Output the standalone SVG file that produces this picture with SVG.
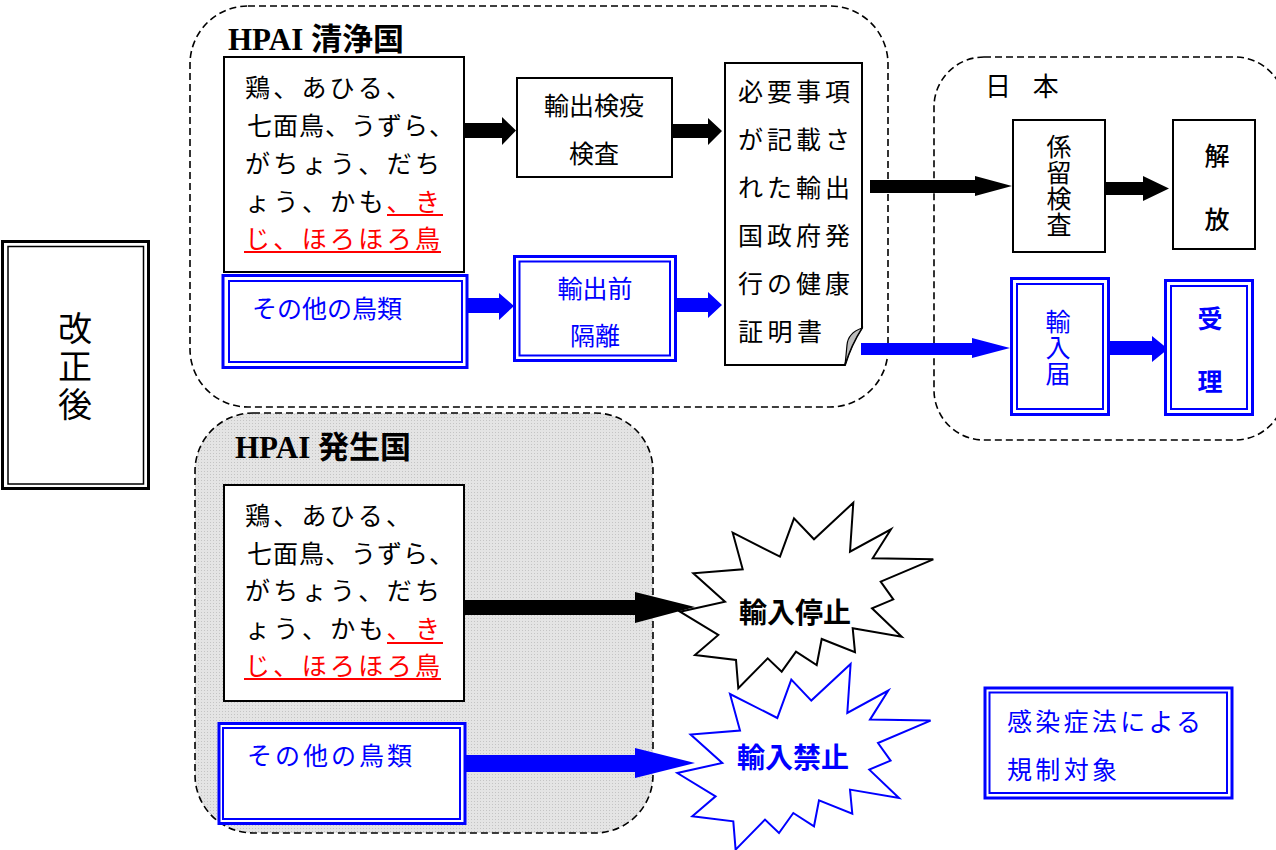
<svg xmlns="http://www.w3.org/2000/svg" width="1276" height="850" viewBox="0 0 1276 850">
<defs>
<style>
.jp{font-family:"Noto Sans CJK JP","Noto Sans",sans-serif;}
.t{font-family:"Noto Sans CJK JP","Noto Sans",sans-serif;font-size:25px;fill:#000;}
.v{writing-mode:vertical-rl;}
.b{fill:#0000ff;}
.r{fill:#ff0000;}
.title{font-family:"Liberation Serif","Noto Sans CJK JP",serif;font-size:31px;font-weight:bold;fill:#000;}
.grp{fill:none;stroke:#000;stroke-width:1.6;stroke-dasharray:7 4;}
.box{fill:#fff;stroke:#000;stroke-width:2;}
.bo{fill:#fff;stroke:#0000ff;stroke-width:3;}
.bi{fill:none;stroke:#0000ff;stroke-width:2;}
.ul{stroke:#ff0000;stroke-width:2;}
.ab{fill:#000;}
.aB{fill:#0000ff;}
.star{fill:#fff;stroke-width:2;stroke-linejoin:miter;}
</style>
<pattern id="dots" width="3" height="3" patternUnits="userSpaceOnUse">
<rect width="3" height="3" fill="#e4e4e4"/>
<rect width="1" height="1" fill="#c4c4c4"/>
</pattern>
<polygon id="starShape" points="853.3,502.7 850,551.7 891,529.3 872.7,558.3 933.3,559.3 880.7,581.7 893.3,599.3 872,608.3 901.7,636.7 852.7,628.3 855,652.3 821.7,639 816.7,665 796,651.7 781.7,671.7 767.7,658.3 738.3,688.3 736,660 695,655 718.3,635 680,611.7 725,601.7 693.3,573.3 742.7,569.3 732.7,532.7 780,556.7 794,518.3 814,539.3"/>
</defs>
<rect width="1276" height="850" fill="#fff"/>

<!-- 改正後 -->
<g id="kaiseigo">
<rect x="2.5" y="241.5" width="146" height="247" fill="#fff" stroke="#000" stroke-width="3"/>
<rect x="8" y="246.5" width="135.5" height="237.5" fill="none" stroke="#000" stroke-width="1.5"/>
<text class="jp v" font-size="34" letter-spacing="4" x="75" y="311">改正後</text>
</g>

<!-- groups -->
<g id="clean-country">
<rect class="grp" x="190" y="6" width="698" height="401" rx="58" ry="58"/>
<text class="title" x="228" y="50">HPAI 清浄国</text>
</g>
<g id="japan">
<rect class="grp" x="934" y="57" width="351" height="383" rx="50" ry="50"/>
<text class="jp" font-size="26" x="985" y="96" word-spacing="16">日 本</text>
</g>
<g id="outbreak-country">
<rect x="195" y="413" width="458" height="420" rx="58" ry="58" fill="url(#dots)" stroke="#000" stroke-width="1.6" stroke-dasharray="7 4"/>
<text class="title" x="235" y="458">HPAI 発生国</text>
</g>

<!-- connectors -->
<g id="connectors">
<polygon class="ab" points="465,123 502,123 502,117 516,130.5 502,145 502,138 465,138"/>
<polygon class="ab" points="672,124 708,124 708,118 722,131 708,145 708,138 672,138"/>
<polygon class="aB" points="463,298 499,298 499,293 514,306 499,320 499,313 463,313"/>
<polygon class="aB" points="676,298 708,298 708,292 722,305 708,318 708,312 676,312"/>
<polygon class="ab" points="870,180 975,180 975,176 1012,186 975,196 975,193 870,193"/>
<polygon class="aB" points="861,343 972,343 972,338 1010,348 972,358 972,355 861,355"/>
<polygon class="ab" points="1105,182 1143,182 1143,176 1169,188.5 1143,201 1143,195 1105,195"/>
<polygon class="aB" points="1109,341 1152,341 1152,336 1168,349 1152,362 1152,355 1109,355"/>
<polygon class="ab" points="464,600 635,600 635,592 695,607 635,623 635,615 464,615"/>
<polygon class="aB" points="465,755 635,755 635,748 695,763 635,778 635,772 465,772"/>
</g>

<!-- clean country nodes -->
<g id="poultry-clean">
<rect class="box" x="224" y="57" width="240" height="215"/>
<text class="t" x="245" y="97" textLength="166" lengthAdjust="spacing">鶏、あひる、</text>
<text class="t" x="247" y="135" textLength="207" lengthAdjust="spacing">七面鳥、うずら、</text>
<text class="t" x="245" y="173" textLength="195" lengthAdjust="spacing">がちょう、だち</text>
<text class="t" x="245" y="211" textLength="195" lengthAdjust="spacing">ょう、かも<tspan class="r">、き</tspan></text>
<text class="t r" x="245" y="248" textLength="195" lengthAdjust="spacing">じ、ほろほろ鳥</text>
<line class="ul" x1="387" y1="215" x2="443" y2="215"/>
<line class="ul" x1="244" y1="252" x2="441" y2="252"/>
</g>
<g id="other-birds-clean">
<rect class="bo" x="223" y="275.5" width="244" height="92"/>
<rect class="bi" x="229" y="281" width="233" height="81"/>
<text class="t b" x="252" y="318" font-size="24">その他の鳥類</text>
</g>
<g id="export-inspection">
<rect class="box" x="517" y="78" width="155" height="99"/>
<text class="t" x="594" y="115" text-anchor="middle" font-size="26">輸出検疫</text>
<text class="t" x="594" y="163" text-anchor="middle" font-size="26">検査</text>
</g>
<g id="pre-export-isolation">
<rect class="bo" x="514.5" y="256.5" width="161" height="104"/>
<rect class="bi" x="519.5" y="261.5" width="150.5" height="94"/>
<text class="t b" x="595" y="298" text-anchor="middle" font-size="27">輸出前</text>
<text class="t b" x="595" y="345" text-anchor="middle" font-size="27">隔離</text>
</g>
<g id="health-certificate">
<path d="M725,63 H862 V328 Q851,345 845,365 H725 Z" fill="#fff" stroke="#000" stroke-width="2"/>
<path d="M862,328 Q848,333 847,345 Q846,356 845,365 Q851,345 862,328 Z" fill="#bdbdbd" stroke="#000" stroke-width="1.2"/>
<text class="t" x="738" y="101" font-size="27" textLength="112" lengthAdjust="spacing">必要事項</text>
<text class="t" x="738" y="149" font-size="27" textLength="112" lengthAdjust="spacing">が記載さ</text>
<text class="t" x="738" y="197" font-size="27" textLength="112" lengthAdjust="spacing">れた輸出</text>
<text class="t" x="738" y="245" font-size="27" textLength="112" lengthAdjust="spacing">国政府発</text>
<text class="t" x="738" y="293" font-size="27" textLength="112" lengthAdjust="spacing">行の健康</text>
<text class="t" x="738" y="341" font-size="27" textLength="84" lengthAdjust="spacing">証明書</text>
</g>

<!-- Japan nodes -->
<g id="quarantine-inspection">
<rect class="box" x="1013" y="120" width="92" height="132"/>
<text class="t v" x="1059" y="134" font-size="25" letter-spacing="1">係留検査</text>
</g>
<g id="release">
<rect class="box" x="1173" y="120" width="82" height="129"/>
<text class="t" x="1217" y="165" text-anchor="middle" font-size="29" font-weight="500">解</text>
<text class="t" x="1217" y="229" text-anchor="middle" font-size="29" font-weight="500">放</text>
</g>
<g id="import-notification">
<rect class="bo" x="1011.5" y="278.5" width="97" height="136"/>
<rect class="bi" x="1017" y="284" width="86" height="125"/>
<text class="t b v" x="1058" y="309" font-size="24" letter-spacing="1">輸入届</text>
</g>
<g id="acceptance">
<rect class="bo" x="1165.5" y="280.5" width="87" height="134"/>
<rect class="bi" x="1171" y="286" width="76" height="123"/>
<text class="t b" x="1210" y="328" text-anchor="middle" font-size="28" font-weight="bold">受</text>
<text class="t b" x="1210" y="391" text-anchor="middle" font-size="28" font-weight="bold">理</text>
</g>

<!-- outbreak country nodes -->
<g id="poultry-outbreak">
<rect class="box" x="224" y="485" width="240" height="216"/>
<text class="t" x="245" y="525" textLength="166" lengthAdjust="spacing">鶏、あひる、</text>
<text class="t" x="247" y="563" textLength="207" lengthAdjust="spacing">七面鳥、うずら、</text>
<text class="t" x="245" y="600" textLength="195" lengthAdjust="spacing">がちょう、だち</text>
<text class="t" x="245" y="638" textLength="195" lengthAdjust="spacing">ょう、かも<tspan class="r">、き</tspan></text>
<text class="t r" x="245" y="675" textLength="195" lengthAdjust="spacing">じ、ほろほろ鳥</text>
<line class="ul" x1="387" y1="643" x2="443" y2="643"/>
<line class="ul" x1="244" y1="679" x2="441" y2="679"/>
</g>
<g id="other-birds-outbreak">
<rect class="bo" x="219" y="723.5" width="246" height="100"/>
<rect class="bi" x="223" y="728" width="237" height="91"/>
<text class="t b" x="247" y="765" textLength="165" lengthAdjust="spacing">その他の鳥類</text>
</g>
<g id="import-suspension">
<use href="#starShape" class="star" stroke="#000"/>
<text class="jp" x="795" y="623" text-anchor="middle" font-size="28" font-weight="bold">輸入停止</text>
</g>
<g id="import-prohibition">
<use href="#starShape" class="star" stroke="#0000ff" transform="translate(-2.7,161.3)"/>
<text class="jp b" x="793" y="768" text-anchor="middle" font-size="28" font-weight="bold">輸入禁止</text>
</g>

<!-- legend -->
<g id="legend">
<rect class="bo" x="985" y="688" width="247" height="110"/>
<rect class="bi" x="989.5" y="692.5" width="237.5" height="100.5"/>
<text class="t b" x="1007" y="731" textLength="194" lengthAdjust="spacing">感染症法による</text>
<text class="t b" x="1007" y="779" textLength="110" lengthAdjust="spacing">規制対象</text>
</g>
</svg>
